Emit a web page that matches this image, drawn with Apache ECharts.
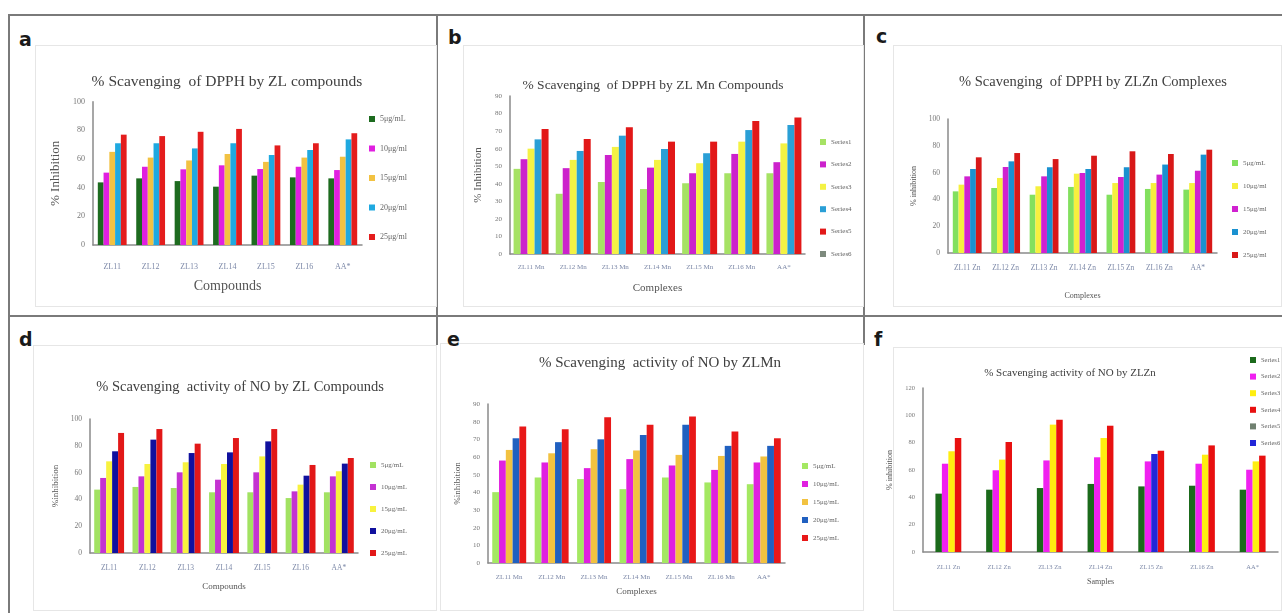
<!DOCTYPE html>
<html>
<head>
<meta charset="utf-8">
<script src="https://cdn.jsdelivr.net/npm/echarts@6/dist/echarts.min.js"></script>
<style>
  body { margin: 0; background: #fff; width: 1282px; height: 613px; overflow: hidden; position: relative; }
  .line { position: absolute; background: #7a7a7a; }
  .box { position: absolute; border: 1px solid #e6e6e6; box-sizing: border-box; }
  .chart { position: absolute; }
  .tag { position: absolute; font: bold 19px "DejaVu Sans", sans-serif; line-height: 19px; color: #1a1a1a; }
</style>
</head>
<body>
<!-- panel frame -->
<div class="line" style="left:8px;top:14px;width:1274px;height:2px"></div>
<div class="line" style="left:8px;top:14px;width:2px;height:599px"></div>
<div class="line" style="left:436px;top:14px;width:2px;height:302px"></div>
<div class="line" style="left:863px;top:14px;width:2px;height:302px"></div>
<div class="line" style="left:8px;top:315px;width:1274px;height:2px"></div>
<div class="line" style="left:436px;top:315px;width:2px;height:30px"></div>
<div class="line" style="left:863px;top:315px;width:2px;height:30px"></div>

<div class="box" style="left:35px;top:45px;width:402px;height:262px"></div>
<div class="box" style="left:463px;top:45px;width:401px;height:262px"></div>
<div class="box" style="left:893px;top:45px;width:389px;height:262px"></div>
<div class="box" style="left:33px;top:345px;width:404px;height:266px"></div>
<div class="box" style="left:440px;top:343px;width:424px;height:268px"></div>
<div class="box" style="left:893px;top:347px;width:389px;height:264px"></div>

<div class="tag" style="left:19px;top:30px">a</div>
<div class="tag" style="left:448px;top:28px">b</div>
<div class="tag" style="left:876px;top:27px">c</div>
<div class="tag" style="left:19px;top:330px">d</div>
<div class="tag" style="left:447px;top:330px">e</div>
<div class="tag" style="left:874px;top:330px">f</div>

<div id="pa" class="chart" style="left:10px;top:16px;width:427px;height:299px"></div>
<div id="pb" class="chart" style="left:438px;top:16px;width:426px;height:299px"></div>
<div id="pc" class="chart" style="left:865px;top:16px;width:417px;height:299px"></div>
<div id="pd" class="chart" style="left:10px;top:317px;width:427px;height:296px"></div>
<div id="pe" class="chart" style="left:438px;top:317px;width:426px;height:296px"></div>
<div id="pf" class="chart" style="left:865px;top:317px;width:417px;height:296px"></div>

<script>
// categories
var catsZL = ['ZL11', 'ZL12', 'ZL13', 'ZL14', 'ZL15', 'ZL16', 'AA*'];
var catsMn = ['ZL11 Mn', 'ZL12 Mn', 'ZL13 Mn', 'ZL14 Mn', 'ZL15 Mn', 'ZL16 Mn', 'AA*'];
var catsZn = ['ZL11 Zn', 'ZL12 Zn', 'ZL13 Zn', 'ZL14 Zn', 'ZL15 Zn', 'ZL16 Zn', 'AA*'];

// legend names
var legA = ['5μg/mL', '10μg/ml', '15μg/ml', '20μg/ml', '25μg/ml'];
var legB = ['Series1', 'Series2', 'Series3', 'Series4', 'Series5', 'Series6'];
var legC = ['5μg/mL', '10μg/ml', '15μg/ml', '20μg/ml', '25μg/ml'];
var legD = ['5μg/mL', '10μg/mL', '15μg/mL', '20μg/mL', '25μg/mL'];
var legE = ['5μg/mL', '10μg/mL', '15μg/mL', '20μg/mL', '25μg/mL'];
var legF = ['Series1', 'Series2', 'Series3', 'Series4', 'Series5', 'Series6'];

// a: DPPH, ZL compounds
var a5  = [43.7, 46.5, 44.6, 40.7, 48.4, 47.2, 46.5];
var a10 = [50.5, 54.6, 52.8, 55.6, 53.0, 54.6, 52.3];
var a15 = [65.0, 61.0, 59.0, 63.5, 58.0, 61.0, 61.6];
var a20 = [71.0, 71.0, 67.4, 71.0, 62.8, 66.3, 73.7];
var a25 = [77.0, 76.0, 79.0, 81.0, 69.5, 71.0, 78.0];

// b: DPPH, ZL Mn
var b1 = [48.5, 34.3, 41.0, 37.0, 40.3, 46.0, 46.0];
var b2 = [54.0, 48.9, 56.4, 49.2, 46.0, 57.0, 52.3];
var b3 = [60.0, 53.6, 61.0, 53.6, 51.7, 64.0, 63.0];
var b4 = [65.3, 58.7, 67.4, 59.8, 57.4, 70.6, 73.5];
var b5 = [71.2, 65.5, 72.2, 64.0, 64.0, 75.8, 77.8];
var b6 = [];

// c: DPPH, ZL Zn
var c5  = [46.0, 48.5, 43.5, 49.3, 43.5, 47.8, 47.3];
var c10 = [51.0, 56.0, 49.8, 59.2, 52.2, 52.2, 52.2];
var c15 = [57.2, 64.2, 57.2, 59.7, 56.7, 58.5, 61.4];
var c20 = [62.7, 68.4, 64.0, 62.7, 64.0, 66.0, 73.4];
var c25 = [71.4, 74.6, 70.1, 72.6, 75.9, 73.9, 77.1];

// d: NO, ZL compounds
var d5  = [47.3, 49.3, 48.5, 45.3, 45.3, 41.0, 45.3];
var d10 = [56.0, 57.2, 60.2, 54.7, 60.2, 46.0, 57.2];
var d15 = [68.4, 66.4, 67.7, 66.4, 72.1, 51.0, 61.0];
var d20 = [75.9, 84.6, 74.6, 75.1, 83.3, 57.7, 66.7];
var d25 = [89.6, 92.5, 81.6, 85.8, 92.5, 65.7, 70.9];

// e: NO, ZL Mn
var e5  = [40.1, 48.4, 47.5, 41.8, 48.4, 45.6, 44.6];
var e10 = [58.0, 56.9, 53.7, 58.8, 55.2, 52.7, 56.9];
var e15 = [64.0, 62.1, 64.4, 63.7, 61.2, 60.6, 60.3];
var e20 = [70.6, 68.4, 70.0, 72.5, 78.2, 66.3, 66.3];
var e25 = [77.2, 75.7, 82.5, 78.2, 82.9, 74.4, 70.6];

// f: NO, ZL Zn
var f1 = [42.7, 45.6, 46.8, 49.8, 48.0, 48.5, 45.6];
var f2 = [64.6, 59.8, 67.0, 69.3, 66.3, 64.6, 60.2];
var f3 = [73.7, 67.6, 93.2, 83.4, null, 71.2, 66.3];
var f4 = [83.4, 80.5, 96.8, 92.4, 74.1, 78.0, 70.5];
var f5 = [];
var f6 = [null, null, null, null, 71.7, null, null];

var serif = '"Liberation Serif", "DejaVu Serif", serif';

// layout in page pixels; each chart subtracts its own origin
var panels = [
  { id: 'pa', origin: [10, 16], box: [93, 101.7, 362, 245], yMax: 100, step: 20, catGap: '25%',
    cats: catsZL, names: legA, data: [a5, a10, a15, a20, a25],
    colors: ['#1d6b1f', '#e01fe0', '#f2c242', '#1fa9e0', '#e41d1d'],
    title: '% Scavenging  of DPPH by ZL compounds', tx: 227, ty: 82, tsize: 15.5,
    xName: 'Compounds', xNameSize: 14, xNameGap: 34, yName: '% Inhibition', yNameSize: 13, yNameGap: 28,
    lx: 369, ly: 114, lgap: 19.5, lsize: 8, labelSize: 8, labelMargin: 18 },
  { id: 'pb', origin: [438, 16], box: [510, 96, 805, 254], yMax: 90, step: 10, catGap: '17%',
    cats: catsMn, names: legB, data: [b1, b2, b3, b4, b5, b6], stacks: [null, null, null, null, 's5', 's5'],
    colors: ['#a6e264', '#cc22cc', '#f4f244', '#2a9fd6', '#e21818', '#7d8a7d'],
    title: '% Scavenging  of DPPH by ZL Mn Compounds', tx: 653, ty: 85, tsize: 13.5,
    xName: 'Complexes', xNameSize: 11, xNameGap: 29, yName: '% Inhibition', yNameSize: 11, yNameGap: 16,
    lx: 820, ly: 137, lgap: 12.4, lsize: 7, labelSize: 7, labelMargin: 10 },
  { id: 'pc', origin: [865, 16], box: [948, 119, 1217, 253], yMax: 100, step: 20, catGap: '25%',
    cats: catsZn, names: legC, data: [c5, c10, c15, c20, c25],
    colors: ['#82e05e', '#f6f03e', '#d021d0', '#1a91d0', '#d81818'],
    title: '% Scavenging  of DPPH by ZLZn Complexes', tx: 1093, ty: 82, tsize: 14.5,
    xName: 'Complexes', xNameSize: 8, xNameGap: 39, yName: '% inhibition', yNameSize: 8, yNameGap: 30,
    lx: 1232, ly: 158, lgap: 13, lsize: 7, labelSize: 7.5, labelMargin: 11 },
  { id: 'pd', origin: [10, 317], box: [90, 419, 358, 553], yMax: 100, step: 20, catGap: '22%',
    cats: catsZL, names: legD, data: [d5, d10, d15, d20, d25],
    colors: ['#a2e262', '#c432d2', '#f8f23e', '#10109e', '#e21818'],
    title: '% Scavenging  activity of NO by ZL Compounds', tx: 240, ty: 387, tsize: 14.5,
    xName: 'Compounds', xNameSize: 9, xNameGap: 29, yName: '%inhibition', yNameSize: 9, yNameGap: 27,
    lx: 370, ly: 460, lgap: 12, lsize: 7, labelSize: 7.5, labelMargin: 11 },
  { id: 'pe', origin: [438, 317], box: [488, 404, 785, 563], yMax: 90, step: 10, catGap: '20%',
    cats: catsMn, names: legE, data: [e5, e10, e15, e20, e25],
    colors: ['#a4e862', '#e020e0', '#f2c240', '#2060c0', '#e81818'],
    title: '% Scavenging  activity of NO by ZLMn', tx: 660, ty: 363, tsize: 15,
    xName: 'Complexes', xNameSize: 9, xNameGap: 24, yName: '%inhibition', yNameSize: 9, yNameGap: 24,
    lx: 802, ly: 461, lgap: 8, lsize: 7, labelSize: 7, labelMargin: 11 },
  { id: 'pf', origin: [865, 317], box: [923, 388, 1278, 552], yMax: 120, step: 20, catGap: '49%',
    cats: catsZn, names: legF, data: [f1, f2, f3, f4, f5, f6], stacks: ['x1', 'x2', 'x3', 'x4', 'x4', 'x3'],
    colors: ['#1b6a1b', '#f020f0', '#ffee10', '#e81010', '#708070', '#2226d8'],
    title: '% Scavenging activity of NO by ZLZn', tx: 1070, ty: 373, tsize: 11,
    xName: 'Samples', xNameSize: 8, xNameGap: 26, yName: '% inhibition', yNameSize: 8, yNameGap: 19,
    lx: 1250, ly: 355, lgap: 6.6, lsize: 6.5, labelSize: 6.5, labelMargin: 12 }
];

panels.forEach(function (p) {
  var chart = echarts.init(document.getElementById(p.id));
  var ox = p.origin[0], oy = p.origin[1];

  var series = p.data.map(function (d, i) {
    var s = {
      type: 'bar',
      name: p.names[i],
      data: d,
      barGap: '0%',
      barCategoryGap: p.catGap,
      itemStyle: { color: p.colors[i] },
      emphasis: { disabled: true }
    };
    if (p.stacks && p.stacks[i]) s.stack = p.stacks[i];
    return s;
  });

  chart.setOption({
    animation: false,
    grid: {
      left: p.box[0] - ox, top: p.box[1] - oy,
      width: p.box[2] - p.box[0], height: p.box[3] - p.box[1],
      containLabel: false, outerBoundsMode: 'none'
    },
    graphic: [{
      type: 'text', x: p.tx - ox, y: p.ty - oy, silent: true,
      style: {
        text: p.title, align: 'center', verticalAlign: 'middle',
        textAlign: 'center', textVerticalAlign: 'middle',
        font: p.tsize + 'px ' + serif, fill: '#404040'
      }
    }],
    legend: {
      orient: 'vertical', left: p.lx - ox, top: p.ly - oy, padding: 0,
      icon: 'rect', itemWidth: 6, itemHeight: 6, itemGap: p.lgap,
      selectedMode: false,
      data: p.names.map(function (n, i) { return { name: n, itemStyle: { color: p.colors[i] } }; }),
      textStyle: { fontSize: p.lsize, lineHeight: 10, color: '#666', fontFamily: serif }
    },
    xAxis: {
      type: 'category', data: p.cats,
      axisTick: { show: false },
      axisLine: { lineStyle: { color: '#8a8a8a', width: 1.5 } },
      axisLabel: { interval: 0, fontSize: p.labelSize, color: '#7d89a8', fontFamily: serif, margin: p.labelMargin },
      name: p.xName, nameLocation: 'middle', nameGap: p.xNameGap,
      nameTextStyle: { fontSize: p.xNameSize, color: '#555', fontFamily: serif }
    },
    yAxis: {
      type: 'value', min: 0, max: p.yMax, interval: p.step,
      splitLine: { show: false },
      axisTick: { show: false },
      axisLine: { show: true, lineStyle: { color: '#8a8a8a', width: 1.5 } },
      axisLabel: { fontSize: p.labelSize, color: '#777', fontFamily: serif, margin: 8 },
      name: p.yName, nameLocation: 'middle', nameGap: p.yNameGap,
      nameTextStyle: { fontSize: p.yNameSize, color: '#555', fontFamily: serif }
    },
    series: series
  });
});
</script>
</body>
</html>
